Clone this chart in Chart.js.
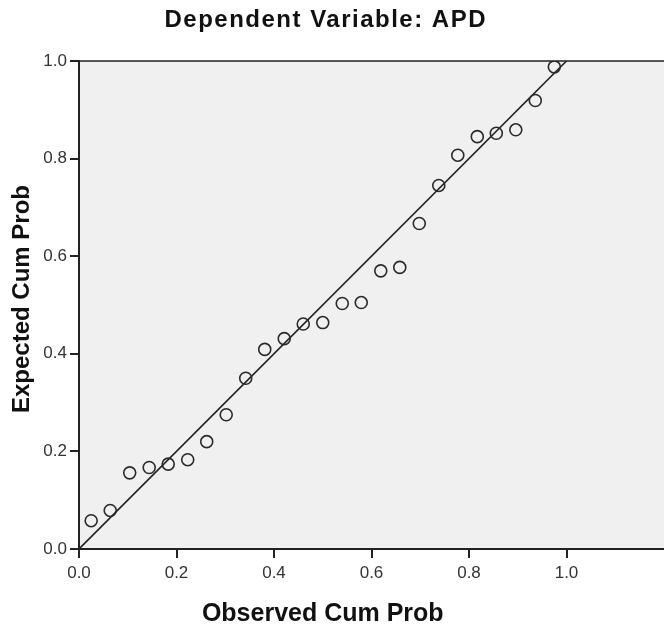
<!DOCTYPE html>
<html>
<head>
<meta charset="utf-8">
<title>Normal P-P Plot - APD</title>
<script src="https://cdn.jsdelivr.net/npm/chart.js@4/dist/chart.umd.min.js"></script>
<style>
    html, body { margin: 0; padding: 0; background: #fff; overflow: hidden; }
    #ppChart { display: block; }
</style>
</head>
<body>
<canvas id="ppChart" width="664" height="630"></canvas>
<script>
// Data
const observedCumProb = [0.025, 0.064, 0.104, 0.144, 0.183, 0.223, 0.262, 0.302, 0.342, 0.381,
    0.421, 0.460, 0.500, 0.540, 0.579, 0.619, 0.658, 0.698, 0.738, 0.777,
    0.817, 0.856, 0.896, 0.936, 0.975];
const expectedCumProb = [0.058, 0.079, 0.156, 0.167, 0.174, 0.183, 0.220, 0.275, 0.350, 0.409,
    0.431, 0.461, 0.464, 0.503, 0.505, 0.570, 0.577, 0.667, 0.745, 0.807,
    0.845, 0.852, 0.859, 0.919, 0.988];
const refLineX = [0, 1];
const refLineY = [0, 1];
const axisTicks = [0.0, 0.2, 0.4, 0.6, 0.8, 1.0];

const chartTitle = 'Dependent Variable: APD';
const xTitle = 'Observed Cum Prob';
const yTitle = 'Expected Cum Prob';

const points = observedCumProb.map((x, i) => ({ x: x, y: expectedCumProb[i] }));
const refLine = refLineX.map((x, i) => ({ x: x, y: refLineY[i] }));

// Plot background, top frame and titles
const framePlugin = {
    id: 'frame',
    beforeDraw(chart) {
        const { ctx, chartArea } = chart;
        ctx.save();
        ctx.fillStyle = '#f0f0f0';
        ctx.fillRect(chartArea.left, chartArea.top, chartArea.right - chartArea.left, chartArea.bottom - chartArea.top);
        ctx.restore();
    },
    afterDraw(chart) {
        const { ctx, chartArea, scales } = chart;
        const midX = scales.x.getPixelForValue(0.5);
        ctx.save();
        ctx.strokeStyle = '#222';
        ctx.lineWidth = 1.5;
        ctx.beginPath();
        ctx.moveTo(chartArea.left, chartArea.top);
        ctx.lineTo(chartArea.right, chartArea.top);
        ctx.stroke();

        ctx.fillStyle = '#111';
        ctx.textAlign = 'center';
        ctx.textBaseline = 'alphabetic';
        ctx.font = 'bold 24px "Liberation Sans", Arial, sans-serif';
        ctx.letterSpacing = '1.5px';
        ctx.fillText(chartTitle, midX + 3, 27);
        ctx.letterSpacing = '0px';
        ctx.font = 'bold 25px "Liberation Sans", Arial, sans-serif';
        ctx.fillText(xTitle, midX, 621);

        ctx.font = 'bold 24px "Liberation Sans", Arial, sans-serif';
        ctx.translate(29, 299);
        ctx.rotate(-Math.PI / 2);
        ctx.fillText(yTitle, 0, 0);
        ctx.restore();
    }
};

const ctx = document.getElementById('ppChart').getContext('2d');
new Chart(ctx, {
    type: 'scatter',
    data: {
        datasets: [{
            label: 'Reference',
            type: 'line',
            data: refLine,
            borderColor: '#222',
            borderWidth: 1.6,
            pointRadius: 0,
            fill: false,
            order: 2
        }, {
            label: 'Cases',
            data: points,
            pointStyle: 'circle',
            pointRadius: 6,
            pointBorderWidth: 1.6,
            borderColor: '#2a2a2a',
            backgroundColor: 'rgba(0,0,0,0)',
            order: 1
        }]
    },
    options: {
        responsive: false,
        animation: false,
        layout: { padding: { top: 61, right: 0, bottom: 0, left: 0 }, autoPadding: false },
        plugins: {
            legend: { display: false },
            title: { display: false },
            tooltip: { enabled: false }
        },
        scales: {
            x: {
                type: 'linear',
                min: 0,
                max: 1.2,
                afterFit(scale) { scale.height = 81; },
                afterBuildTicks(scale) {
                    scale.ticks = axisTicks.map(v => ({ value: v }));
                },
                ticks: {
                    color: '#333',
                    font: { family: '"Liberation Sans", Arial, sans-serif', size: 17 },
                    padding: 5,
                    maxRotation: 0,
                    autoSkip: false,
                    callback: v => v.toFixed(1)
                },
                grid: {
                    drawOnChartArea: false,
                    drawTicks: true,
                    tickLength: 9,
                    color: '#222',
                    lineWidth: 2
                },
                border: { display: true, color: '#222', width: 2 }
            },
            y: {
                type: 'linear',
                min: 0,
                max: 1,
                afterFit(scale) { scale.width = 79; },
                afterBuildTicks(scale) {
                    scale.ticks = axisTicks.map(v => ({ value: v }));
                },
                ticks: {
                    color: '#333',
                    font: { family: '"Liberation Sans", Arial, sans-serif', size: 17 },
                    padding: 3,
                    autoSkip: false,
                    callback: v => v.toFixed(1)
                },
                grid: {
                    drawOnChartArea: false,
                    drawTicks: true,
                    tickLength: 9,
                    color: '#222',
                    lineWidth: 2
                },
                border: { display: true, color: '#222', width: 2 }
            }
        }
    },
    plugins: [framePlugin]
});
</script>
</body>
</html>
